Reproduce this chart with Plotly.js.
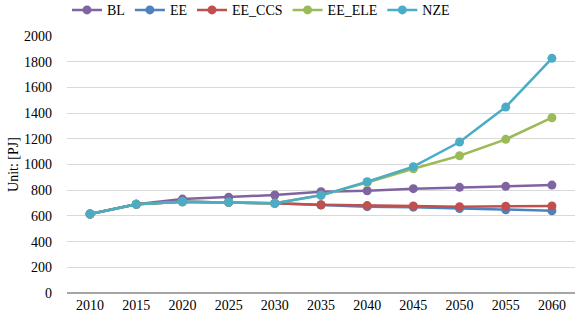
<!DOCTYPE html>
<html><head><meta charset="utf-8">
<script src="https://cdn.plot.ly/plotly-3.0.1.min.js"></script>
<style>body{margin:0;padding:0;}#chart{width:575px;height:318px;}</style>
</head><body><div id="chart"></div>
<script>
const years = [2010,2015,2020,2025,2030,2035,2040,2045,2050,2055,2060];
const BL     = [615,690,731,745,763,788,796,812,822,830,840];
const EE     = [615,690,710,706,698,685,672,668,658,648,640];
const EE_CCS = [615,690,710,706,698,687,680,677,672,675,678];
const EE_ELE = [615,690,710,706,698,760,860,967,1068,1196,1364];
const NZE    = [615,690,710,706,698,760,866,983,1175,1447,1826];
const names = ['BL','EE','EE_CCS','EE_ELE','NZE'];
const colors = ['#8064A2','#4F81BD','#C0504D','#9BBB59','#4BACC6'];
const series = [BL,EE,EE_CCS,EE_ELE,NZE];
const traces = series.map((s,i)=>({
  x: years, y: s, name: names[i], type:'scatter', mode:'lines+markers',
  line:{color:colors[i], width:2.5}, marker:{color:colors[i], size:9}
}));
const font = {family:'Liberation Serif', size:14, color:'#000'};
Plotly.newPlot('chart', traces, {
  width:575, height:318,
  margin:{l:67, r:0, t:36, b:25, autoexpand:false},
  paper_bgcolor:'#fff', plot_bgcolor:'#fff',
  font: font,
  showlegend:true,
  legend:{orientation:'h', x:0.0, xanchor:'left', y:1.10, yanchor:'middle',
          font:{family:font.family,size:14,color:'#000'}, itemwidth:30, tracegroupgap:0,
          bgcolor:'rgba(0,0,0,0)'},
  xaxis:{range:[2007.5,2062.5], tickvals:years, ticktext:years.map(String),
         showgrid:false, zeroline:false, showline:false, ticks:'', tickfont:font, ticklabelstandoff:2, fixedrange:true},
  yaxis:{range:[0,2000], dtick:200, tick0:0, showgrid:true, gridcolor:'#D9D9D9', gridwidth:1,
         zeroline:true, zerolinecolor:'#A6A6A6', zerolinewidth:1.5, showline:false, ticks:'',
         tickfont:font, ticklabelstandoff:14,
         title:{text:'Unit: [PJ]', font:font, standoff:2}},
}, {staticPlot:true});
</script></body></html>
